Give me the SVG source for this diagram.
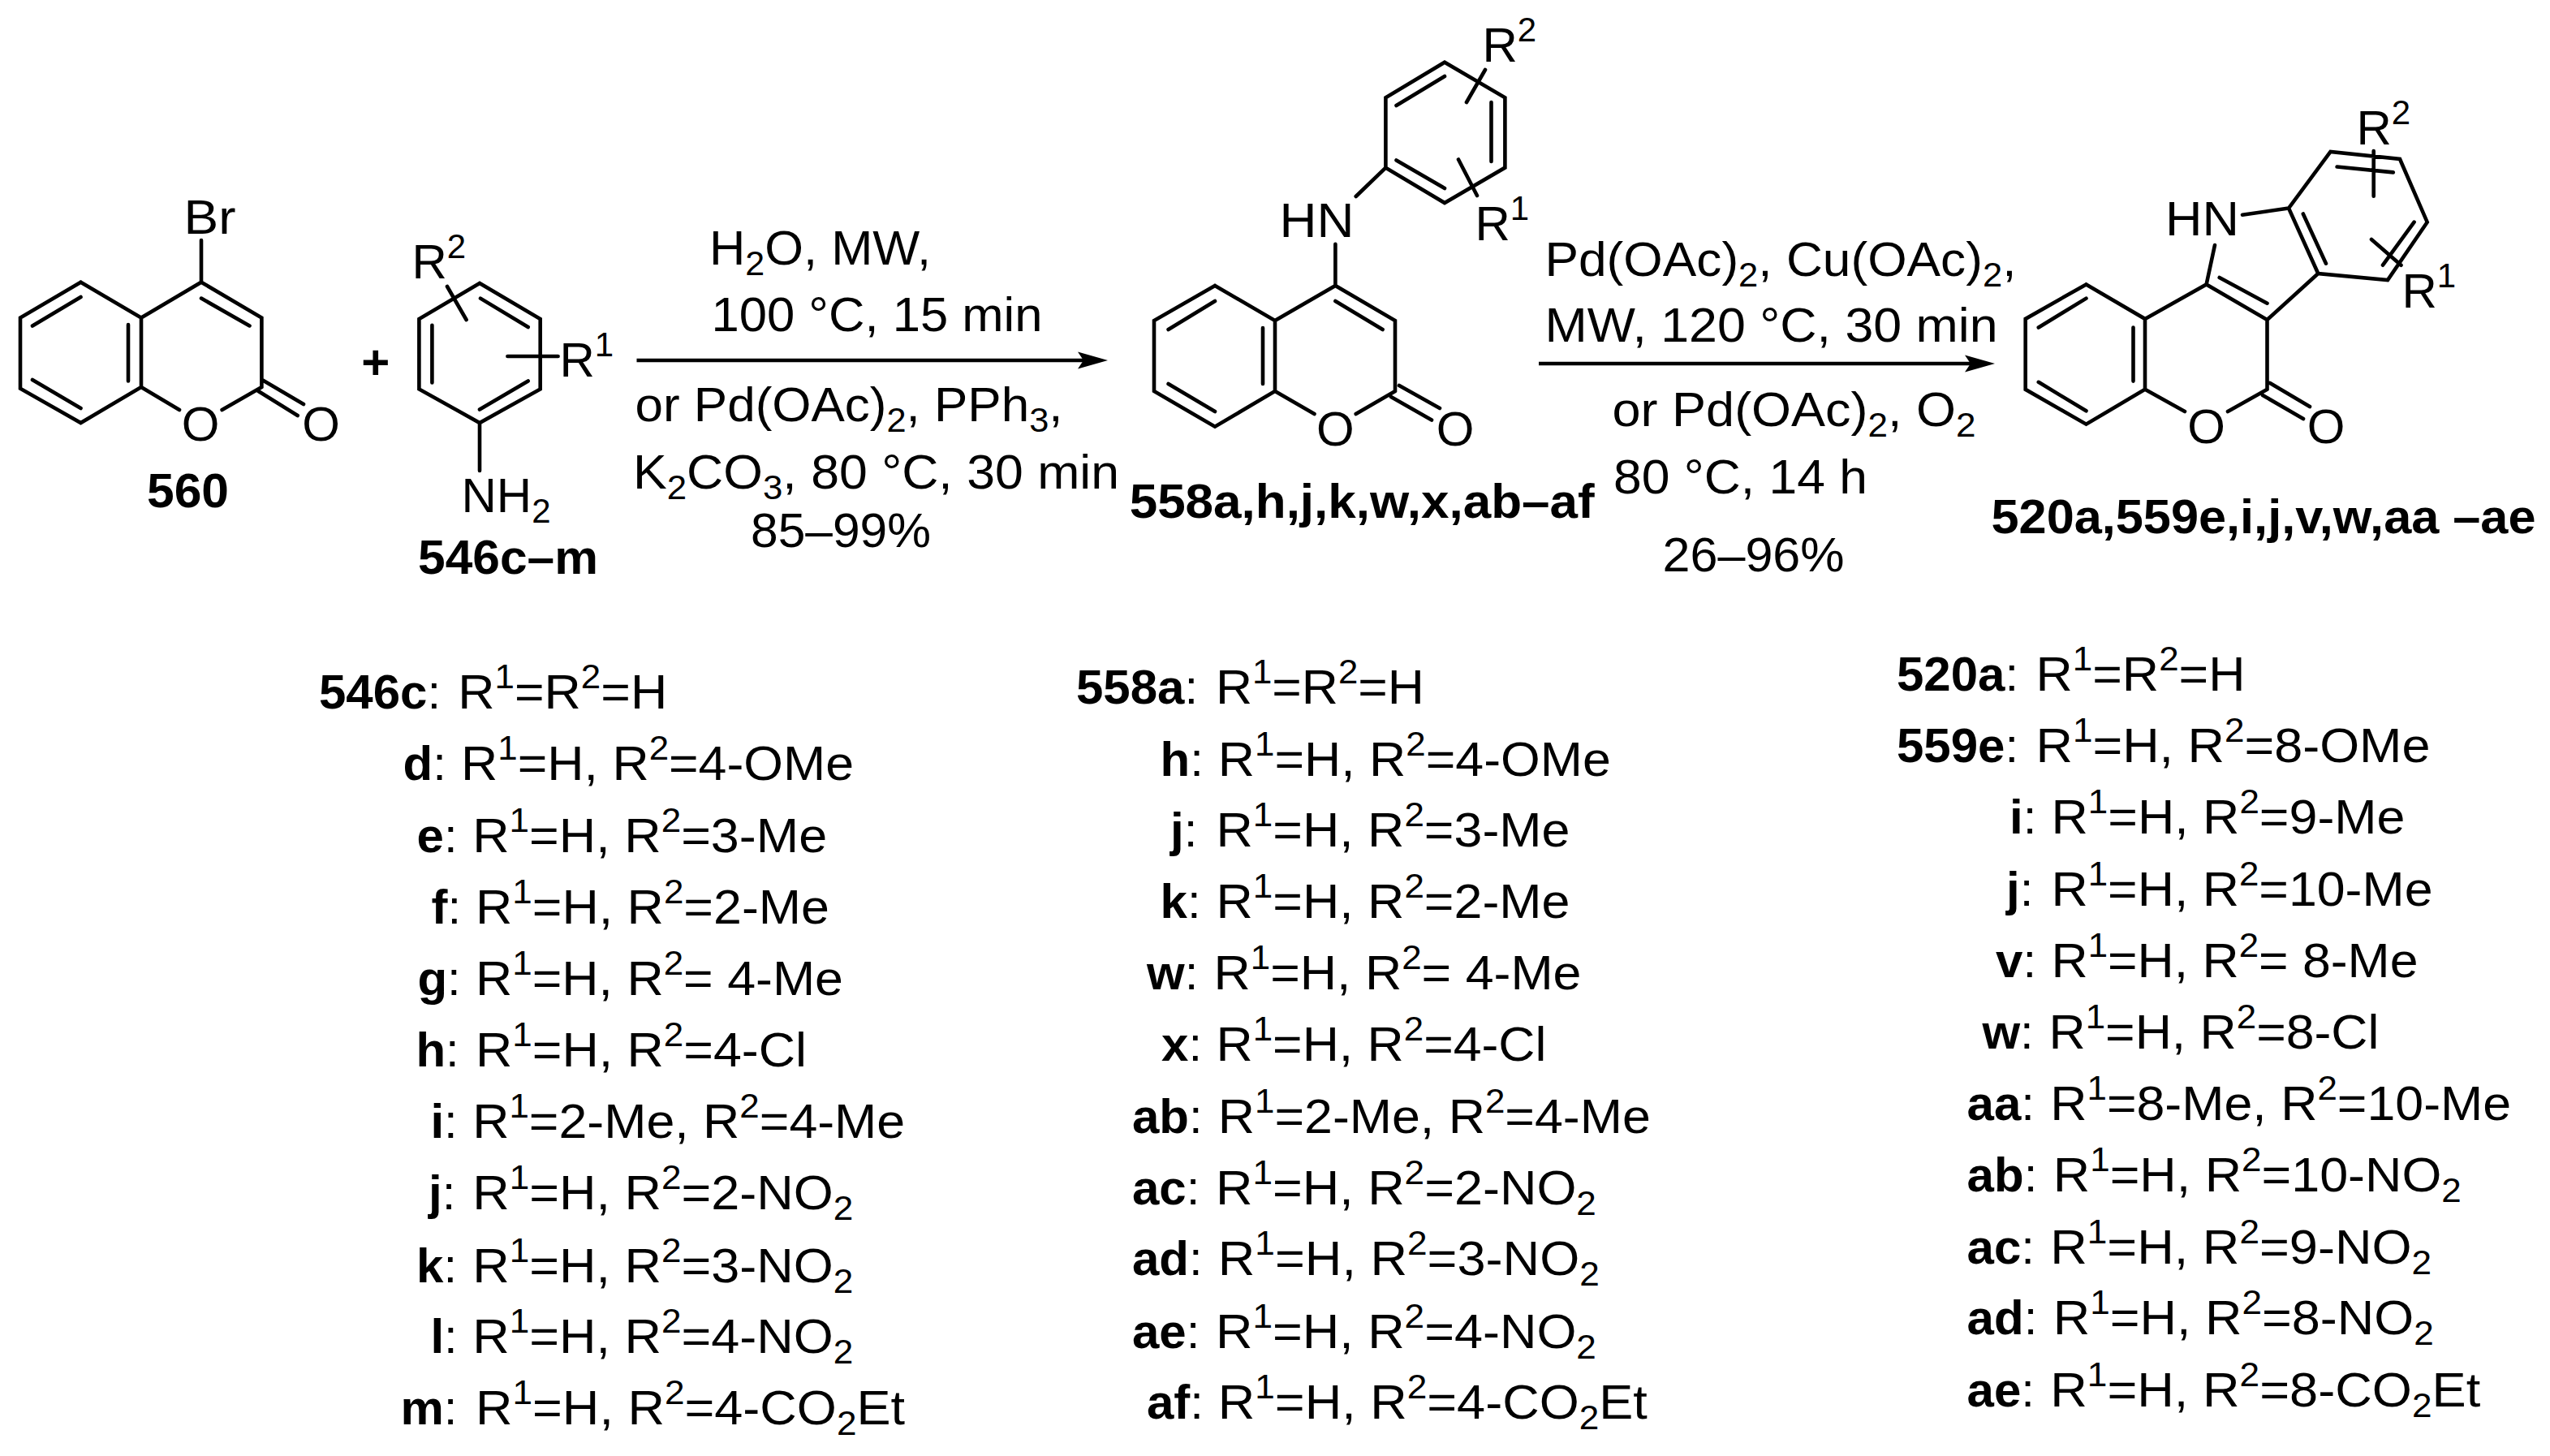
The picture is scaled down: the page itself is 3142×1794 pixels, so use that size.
<svg xmlns="http://www.w3.org/2000/svg" width="3142" height="1794" viewBox="0 0 3142 1794">
<style>
text{font-family:"Liberation Sans",Arial,sans-serif;font-size:60px;fill:#000;white-space:pre}
.b{font-weight:bold}
.sup{font-size:42px;baseline-shift:25px}
.sub{font-size:42px;baseline-shift:-13px}
.m{text-anchor:middle}
.bond{fill:none;stroke:#000;stroke-width:4.6;stroke-linecap:round;stroke-linejoin:miter}
.arrow{fill:none;stroke:#000;stroke-width:4.6}
</style>
<defs>
<marker id="head" markerUnits="userSpaceOnUse" viewBox="-28 -11 39 22" markerWidth="39" markerHeight="22" refX="0" refY="0" orient="auto">
<path d="M-27,-10.5L10,0L-27,10.5L-20,0z" fill="#000"/>
</marker>
</defs>
<rect width="3142" height="1794" fill="#fff"/>

<g id="connectors">
<line class="arrow" x1="784.5" y1="444" x2="1355" y2="444" marker-end="url(#head)"/>
<line class="arrow" x1="1896" y1="448" x2="2448" y2="448" marker-end="url(#head)"/>
</g>

<g id="node-560">
<path class="bond" d="M99.5,347.7L25,391.5V478.7L99.5,521L174,477V391.5L99.5,347.7M174,391.5L248,347.7L322.4,391.5V477M40,401.5L99.5,366M40,468L99.5,503M158,400V469.5M248,367.6L307.5,401.4M248,347.7V296M174,477L221,505M322.4,477L273.6,505M323,468L374,498M318.4,482L366.7,512"/>
<text x="226.5" y="288" textLength="64" lengthAdjust="spacingAndGlyphs">Br</text>
<text class="m" x="247" y="543">O</text>
<text class="m" x="395.5" y="543">O</text>
<text class="b" x="181" y="625" textLength="101" lengthAdjust="spacingAndGlyphs">560</text>
</g>

<g id="plus"><text class="m b" x="462.7" y="467">+</text></g>

<g id="node-546">
<path class="bond" d="M591,349L516.4,393V479.4L591,521L665.7,479.4V393Z M532.4,400.8V471.4M592,367.6L650.7,403M591,504.6L650.7,469.4M591,521V580M551,353L574.6,394M625.4,439H687.6"/>
<text x="507.5" y="343">R<tspan class="sup">2</tspan></text>
<text x="689.5" y="464">R<tspan class="sup">1</tspan></text>
<text x="568.5" y="631">NH<tspan class="sub">2</tspan></text>
<text class="b" x="515" y="707" textLength="222" lengthAdjust="spacingAndGlyphs">546c–m</text>
</g>

<g id="conditions-1">
<text x="874" y="326" textLength="273" lengthAdjust="spacingAndGlyphs">H<tspan class="sub">2</tspan>O, MW,</text>
<text x="876.5" y="408" textLength="408" lengthAdjust="spacingAndGlyphs">100 °C, 15 min</text>
<text x="782.5" y="519" textLength="527" lengthAdjust="spacingAndGlyphs">or Pd(OAc)<tspan class="sub">2</tspan>, PPh<tspan class="sub">3</tspan>,</text>
<text x="780" y="601.5" textLength="599" lengthAdjust="spacingAndGlyphs">K<tspan class="sub">2</tspan>CO<tspan class="sub">3</tspan>, 80 °C, 30 min</text>
<text x="925" y="674" textLength="222" lengthAdjust="spacingAndGlyphs">85–99%</text>
</g>

<g id="node-558">
<path class="bond" d="M1497,352L1422,395V482L1497,525.7L1571,482V395L1497,352M1571,395L1645.4,352L1719,395V482M1439.6,406L1497,371M1439.6,473L1497,507M1556,404V473M1645.4,371L1703.6,406M1571,482L1619.5,510M1719,482L1670.7,510M1724,475L1774,503M1714,489L1764,517.5M1645.4,352V300.7M1670.7,242L1707.4,206.6M1707.4,206.6V120.3L1780,76.7L1854.4,120.3V206.6L1780,250ZM1720.5,130L1780,94M1837.5,126V199M1720.5,197.4L1780,232M1830,86L1807,126M1797,196.5L1820,241"/>
<text x="1576.5" y="291.5" textLength="92" lengthAdjust="spacingAndGlyphs">HN</text>
<text class="m" x="1645.4" y="549">O</text>
<text class="m" x="1793" y="549">O</text>
<text x="1826.5" y="76">R<tspan class="sup">2</tspan></text>
<text x="1817.5" y="296">R<tspan class="sup">1</tspan></text>
<text class="b" x="1391.7" y="638" textLength="573" lengthAdjust="spacingAndGlyphs">558a,h,j,k,w,x,ab–af</text>
</g>

<g id="conditions-2">
<text x="1903.5" y="340" textLength="581" lengthAdjust="spacingAndGlyphs">Pd(OAc)<tspan class="sub">2</tspan>, Cu(OAc)<tspan class="sub">2</tspan>,</text>
<text x="1903.5" y="421.4" textLength="558" lengthAdjust="spacingAndGlyphs">MW, 120 °C, 30 min</text>
<text x="1986.6" y="524.7" textLength="448" lengthAdjust="spacingAndGlyphs">or Pd(OAc)<tspan class="sub">2</tspan>, O<tspan class="sub">2</tspan></text>
<text x="1988" y="608" textLength="313" lengthAdjust="spacingAndGlyphs">80 °C, 14 h</text>
<text x="2048.6" y="704" textLength="224" lengthAdjust="spacingAndGlyphs">26–96%</text>
</g>

<g id="node-520">
<path class="bond" d="M2570.5,350.4L2495.7,392.9V479.8L2570.5,522.7L2643,479.8V392.9L2570.5,350.4M2643,392.9L2718.6,350.4L2793.5,394V479.8M2511.8,403.5L2570.5,367.6M2511.8,470.8L2570.5,506.3M2628.5,403.5V469.6M2734.7,342L2793.5,373.7M2729,302L2718.6,350.4M2793.5,394L2856.3,337M2763,264.7L2820,256.5M2820,256.5L2871.5,187L2957,196L2990.7,273.7L2942,345L2856.3,337ZM2837.8,263.5L2866,324.7M2879.6,205.5L2948.8,212.4M2974.6,273.7L2936,326.7M2924.7,186V241.8M2922,295L2958.5,326.7M2643,479.8L2692,507M2793.5,479.8L2745,507M2797,472L2846,501M2788,487L2838,516"/>
<text x="2668" y="290" textLength="91" lengthAdjust="spacingAndGlyphs">HN</text>
<text class="m" x="2718.6" y="546">O</text>
<text class="m" x="2866" y="546">O</text>
<text x="2903.5" y="178">R<tspan class="sup">2</tspan></text>
<text x="2959.5" y="379">R<tspan class="sup">1</tspan></text>
<text class="b" x="2453.5" y="657" textLength="671" lengthAdjust="spacingAndGlyphs">520a,559e,i,j,v,w,aa –ae</text>
</g>

<g id="list-546">
<text x="393" y="873"><tspan class="b">546c</tspan>:</text><text x="564.2" y="873" textLength="258" lengthAdjust="spacingAndGlyphs">R<tspan class="sup">1</tspan>=R<tspan class="sup">2</tspan>=H</text>
<text x="496.5" y="961"><tspan class="b">d</tspan>:</text><text x="568.1" y="961" textLength="484" lengthAdjust="spacingAndGlyphs">R<tspan class="sup">1</tspan>=H, R<tspan class="sup">2</tspan>=4-OMe</text>
<text x="513.5" y="1049.6"><tspan class="b">e</tspan>:</text><text x="582.2" y="1049.6" textLength="437" lengthAdjust="spacingAndGlyphs">R<tspan class="sup">1</tspan>=H, R<tspan class="sup">2</tspan>=3-Me</text>
<text x="531.4" y="1137.6"><tspan class="b">f</tspan>:</text><text x="586" y="1137.6" textLength="436" lengthAdjust="spacingAndGlyphs">R<tspan class="sup">1</tspan>=H, R<tspan class="sup">2</tspan>=2-Me</text>
<text x="514.4" y="1225.6"><tspan class="b">g</tspan>:</text><text x="586" y="1225.6" textLength="453" lengthAdjust="spacingAndGlyphs">R<tspan class="sup">1</tspan>=H, R<tspan class="sup">2</tspan>= 4-Me</text>
<text x="512.4" y="1314"><tspan class="b">h</tspan>:</text><text x="586" y="1314" textLength="408" lengthAdjust="spacingAndGlyphs">R<tspan class="sup">1</tspan>=H, R<tspan class="sup">2</tspan>=4-Cl</text>
<text x="530.4" y="1402"><tspan class="b">i</tspan>:</text><text x="582.2" y="1402" textLength="533" lengthAdjust="spacingAndGlyphs">R<tspan class="sup">1</tspan>=2-Me, R<tspan class="sup">2</tspan>=4-Me</text>
<text x="528" y="1490"><tspan class="b">j</tspan>:</text><text x="582.2" y="1490" textLength="469" lengthAdjust="spacingAndGlyphs">R<tspan class="sup">1</tspan>=H, R<tspan class="sup">2</tspan>=2-NO<tspan class="sub">2</tspan></text>
<text x="513" y="1579.5"><tspan class="b">k</tspan>:</text><text x="582.2" y="1579.5" textLength="469" lengthAdjust="spacingAndGlyphs">R<tspan class="sup">1</tspan>=H, R<tspan class="sup">2</tspan>=3-NO<tspan class="sub">2</tspan></text>
<text x="530.4" y="1667"><tspan class="b">l</tspan>:</text><text x="582.2" y="1667" textLength="469" lengthAdjust="spacingAndGlyphs">R<tspan class="sup">1</tspan>=H, R<tspan class="sup">2</tspan>=4-NO<tspan class="sub">2</tspan></text>
<text x="493.5" y="1755"><tspan class="b">m</tspan>:</text><text x="586" y="1755" textLength="529" lengthAdjust="spacingAndGlyphs">R<tspan class="sup">1</tspan>=H, R<tspan class="sup">2</tspan>=4-CO<tspan class="sub">2</tspan>Et</text>
</g>

<g id="list-558">
<text x="1326" y="866.5"><tspan class="b">558a</tspan>:</text><text x="1497.9" y="866.5" textLength="257" lengthAdjust="spacingAndGlyphs">R<tspan class="sup">1</tspan>=R<tspan class="sup">2</tspan>=H</text>
<text x="1429.6" y="955.8"><tspan class="b">h</tspan>:</text><text x="1500.8" y="955.8" textLength="484" lengthAdjust="spacingAndGlyphs">R<tspan class="sup">1</tspan>=H, R<tspan class="sup">2</tspan>=4-OMe</text>
<text x="1442" y="1043"><tspan class="b">j</tspan>:</text><text x="1498.5" y="1043" textLength="436" lengthAdjust="spacingAndGlyphs">R<tspan class="sup">1</tspan>=H, R<tspan class="sup">2</tspan>=3-Me</text>
<text x="1429.6" y="1131"><tspan class="b">k</tspan>:</text><text x="1498.5" y="1131" textLength="436" lengthAdjust="spacingAndGlyphs">R<tspan class="sup">1</tspan>=H, R<tspan class="sup">2</tspan>=2-Me</text>
<text x="1413" y="1219"><tspan class="b">w</tspan>:</text><text x="1495.5" y="1219" textLength="453" lengthAdjust="spacingAndGlyphs">R<tspan class="sup">1</tspan>=H, R<tspan class="sup">2</tspan>= 4-Me</text>
<text x="1431" y="1307"><tspan class="b">x</tspan>:</text><text x="1498.5" y="1307" textLength="407" lengthAdjust="spacingAndGlyphs">R<tspan class="sup">1</tspan>=H, R<tspan class="sup">2</tspan>=4-Cl</text>
<text x="1395" y="1396"><tspan class="b">ab</tspan>:</text><text x="1500.8" y="1396" textLength="533" lengthAdjust="spacingAndGlyphs">R<tspan class="sup">1</tspan>=2-Me, R<tspan class="sup">2</tspan>=4-Me</text>
<text x="1395" y="1484"><tspan class="b">ac</tspan>:</text><text x="1497.9" y="1484" textLength="469" lengthAdjust="spacingAndGlyphs">R<tspan class="sup">1</tspan>=H, R<tspan class="sup">2</tspan>=2-NO<tspan class="sub">2</tspan></text>
<text x="1395" y="1571"><tspan class="b">ad</tspan>:</text><text x="1500.8" y="1571" textLength="470" lengthAdjust="spacingAndGlyphs">R<tspan class="sup">1</tspan>=H, R<tspan class="sup">2</tspan>=3-NO<tspan class="sub">2</tspan></text>
<text x="1395" y="1660.5"><tspan class="b">ae</tspan>:</text><text x="1497.9" y="1660.5" textLength="469" lengthAdjust="spacingAndGlyphs">R<tspan class="sup">1</tspan>=H, R<tspan class="sup">2</tspan>=4-NO<tspan class="sub">2</tspan></text>
<text x="1413" y="1748"><tspan class="b">af</tspan>:</text><text x="1500.8" y="1748" textLength="529" lengthAdjust="spacingAndGlyphs">R<tspan class="sup">1</tspan>=H, R<tspan class="sup">2</tspan>=4-CO<tspan class="sub">2</tspan>Et</text>
</g>

<g id="list-520">
<text x="2337" y="851.4"><tspan class="b">520a</tspan>:</text><text x="2508.5" y="851.4" textLength="258" lengthAdjust="spacingAndGlyphs">R<tspan class="sup">1</tspan>=R<tspan class="sup">2</tspan>=H</text>
<text x="2337" y="939.4"><tspan class="b">559e</tspan>:</text><text x="2508.5" y="939.4" textLength="486" lengthAdjust="spacingAndGlyphs">R<tspan class="sup">1</tspan>=H, R<tspan class="sup">2</tspan>=8-OMe</text>
<text x="2476" y="1027.4"><tspan class="b">i</tspan>:</text><text x="2527.5" y="1027.4" textLength="436" lengthAdjust="spacingAndGlyphs">R<tspan class="sup">1</tspan>=H, R<tspan class="sup">2</tspan>=9-Me</text>
<text x="2472" y="1116"><tspan class="b">j</tspan>:</text><text x="2527.5" y="1116" textLength="470" lengthAdjust="spacingAndGlyphs">R<tspan class="sup">1</tspan>=H, R<tspan class="sup">2</tspan>=10-Me</text>
<text x="2459" y="1204"><tspan class="b">v</tspan>:</text><text x="2527.5" y="1204" textLength="452" lengthAdjust="spacingAndGlyphs">R<tspan class="sup">1</tspan>=H, R<tspan class="sup">2</tspan>= 8-Me</text>
<text x="2442.4" y="1292"><tspan class="b">w</tspan>:</text><text x="2524.5" y="1292" textLength="407" lengthAdjust="spacingAndGlyphs">R<tspan class="sup">1</tspan>=H, R<tspan class="sup">2</tspan>=8-Cl</text>
<text x="2423.6" y="1379.5"><tspan class="b">aa</tspan>:</text><text x="2526.2" y="1379.5" textLength="568" lengthAdjust="spacingAndGlyphs">R<tspan class="sup">1</tspan>=8-Me, R<tspan class="sup">2</tspan>=10-Me</text>
<text x="2423.6" y="1467.5"><tspan class="b">ab</tspan>:</text><text x="2529.8" y="1467.5" textLength="503" lengthAdjust="spacingAndGlyphs">R<tspan class="sup">1</tspan>=H, R<tspan class="sup">2</tspan>=10-NO<tspan class="sub">2</tspan></text>
<text x="2423.6" y="1557"><tspan class="b">ac</tspan>:</text><text x="2526.2" y="1557" textLength="470" lengthAdjust="spacingAndGlyphs">R<tspan class="sup">1</tspan>=H, R<tspan class="sup">2</tspan>=9-NO<tspan class="sub">2</tspan></text>
<text x="2423.6" y="1644"><tspan class="b">ad</tspan>:</text><text x="2529.8" y="1644" textLength="469" lengthAdjust="spacingAndGlyphs">R<tspan class="sup">1</tspan>=H, R<tspan class="sup">2</tspan>=8-NO<tspan class="sub">2</tspan></text>
<text x="2423.6" y="1733"><tspan class="b">ae</tspan>:</text><text x="2526.2" y="1733" textLength="530" lengthAdjust="spacingAndGlyphs">R<tspan class="sup">1</tspan>=H, R<tspan class="sup">2</tspan>=8-CO<tspan class="sub">2</tspan>Et</text>
</g>
</svg>
